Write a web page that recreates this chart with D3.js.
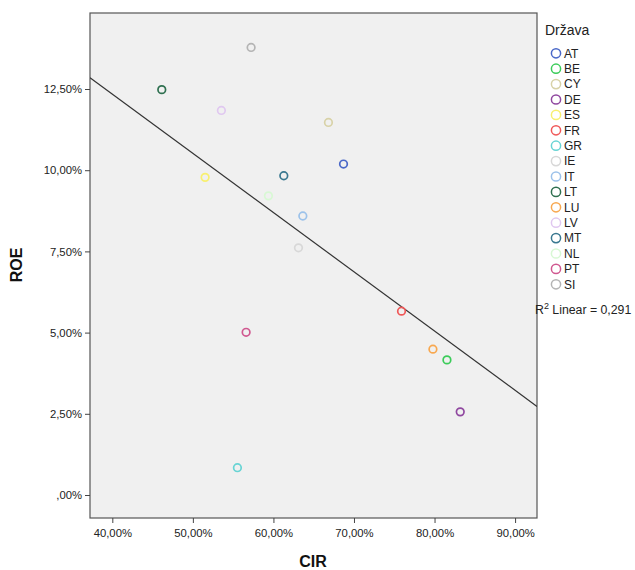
<!DOCTYPE html>
<html><head><meta charset="utf-8">
<script src="https://cdn.jsdelivr.net/npm/d3@7"></script>
<style>body{margin:0;background:#fff;} svg{display:block;font-family:Arial,"Liberation Sans",sans-serif;}</style>
</head><body>
<svg id="c" width="635" height="570"></svg>
<script>
const countries = ["AT","BE","CY","DE","ES","FR","GR","IE","IT","LT","LU","LV","MT","NL","PT","SI"];
const cir = [68.70,81.54,66.83,83.19,51.52,75.90,55.53,63.11,63.65,46.14,79.80,53.54,61.29,59.38,56.61,57.23];
const roe = [10.19,4.16,11.47,2.56,9.78,5.66,0.84,7.61,8.59,12.48,4.49,11.84,9.83,9.21,5.01,13.78];
const colors = ["#4a68c8","#3ccc5a","#d8d2a8","#9048a0","#f8f070","#f05858","#68d4d4","#d8d8d8","#9cc2ea","#2f7050","#f8a850","#e0c8f0","#3a7890","#d8f8d4","#d05890","#b4b4b4"];
const xTicks = [40,50,60,70,80,90];
const yTicks = [0,2.5,5,7.5,10,12.5];
const fitIntercept = 19.64, fitSlope = -0.1824;
const r2Label = "0,291";

const svg = d3.select("#c");
const L=90, T=13, R=537, B=518;
const x = d3.scaleLinear().domain([37.23,92.72]).range([L,R]);
const y = d3.scaleLinear().domain([-0.708,14.84]).range([B,T]);
const fmt = v => { let s = d3.format(".2f")(v).replace(".",","); if (s.startsWith("0,")) s = s.slice(1); return s + "%"; };

svg.append("rect").attr("x",L).attr("y",T).attr("width",R-L).attr("height",B-T)
  .attr("fill","#f0f0f0").attr("stroke","#555").attr("stroke-width",1.2);

const ga = svg.append("g").attr("transform",`translate(${L},0)`)
  .call(d3.axisLeft(y).tickValues(yTicks).tickFormat(fmt).tickSize(5).tickSizeOuter(0));
const gx = svg.append("g").attr("transform",`translate(0,${B})`)
  .call(d3.axisBottom(x).tickValues(xTicks).tickFormat(fmt).tickSize(5).tickSizeOuter(0));
[ga,gx].forEach(g=>{
  g.select(".domain").remove();
  g.selectAll(".tick line").attr("stroke","#444");
  g.selectAll(".tick text").attr("fill","#222").style("font-size","11.3px").style("font-family","Arial,'Liberation Sans',sans-serif");
});
gx.selectAll(".tick text").attr("dy","1.0em");

svg.append("clipPath").attr("id","pc").append("rect").attr("x",L).attr("y",T).attr("width",R-L).attr("height",B-T);
const x0 = x.domain()[0], x1 = x.domain()[1];
svg.append("line").attr("clip-path","url(#pc)")
  .attr("x1",x(x0)).attr("y1",y(fitIntercept+fitSlope*x0))
  .attr("x2",x(x1)).attr("y2",y(fitIntercept+fitSlope*x1))
  .attr("stroke","#333").attr("stroke-width",1.2);

svg.append("g").selectAll("circle").data(countries).join("circle")
  .attr("cx",(d,i)=>x(cir[i])).attr("cy",(d,i)=>y(roe[i])).attr("r",3.8)
  .attr("fill","none").attr("stroke",(d,i)=>colors[i]).attr("stroke-width",1.7);

svg.append("text").attr("x",18).attr("y",265).attr("transform","rotate(-90,18,265)")
  .attr("text-anchor","middle").attr("dominant-baseline","middle")
  .style("font-size","16px").style("font-weight","bold").attr("fill","#111").text("ROE");
svg.append("text").attr("x",313).attr("y",563).attr("text-anchor","middle").attr("dominant-baseline","middle")
  .style("font-size","16px").style("font-weight","bold").attr("fill","#111").text("CIR");

svg.append("text").attr("x",545).attr("y",35).style("font-size","14px").attr("fill","#222").text("Država");
const lg = svg.append("g").selectAll("g").data(countries).join("g")
  .attr("transform",(d,i)=>`translate(556,${53.3+i*15.4})`);
lg.append("circle").attr("r",4.6).attr("fill","none").attr("stroke",(d,i)=>colors[i]).attr("stroke-width",1.5);
lg.append("text").attr("x",8).attr("dy","0.36em").style("font-size","12px").attr("fill","#222").text(d=>d);

const rt = svg.append("text").attr("x",535).attr("y",314).style("font-size","12.3px").attr("fill","#222");
rt.append("tspan").text("R");
rt.append("tspan").attr("dy",-5).style("font-size","9px").text("2");
rt.append("tspan").attr("dy",5).text(" Linear = " + r2Label);
</script>
</body></html>
